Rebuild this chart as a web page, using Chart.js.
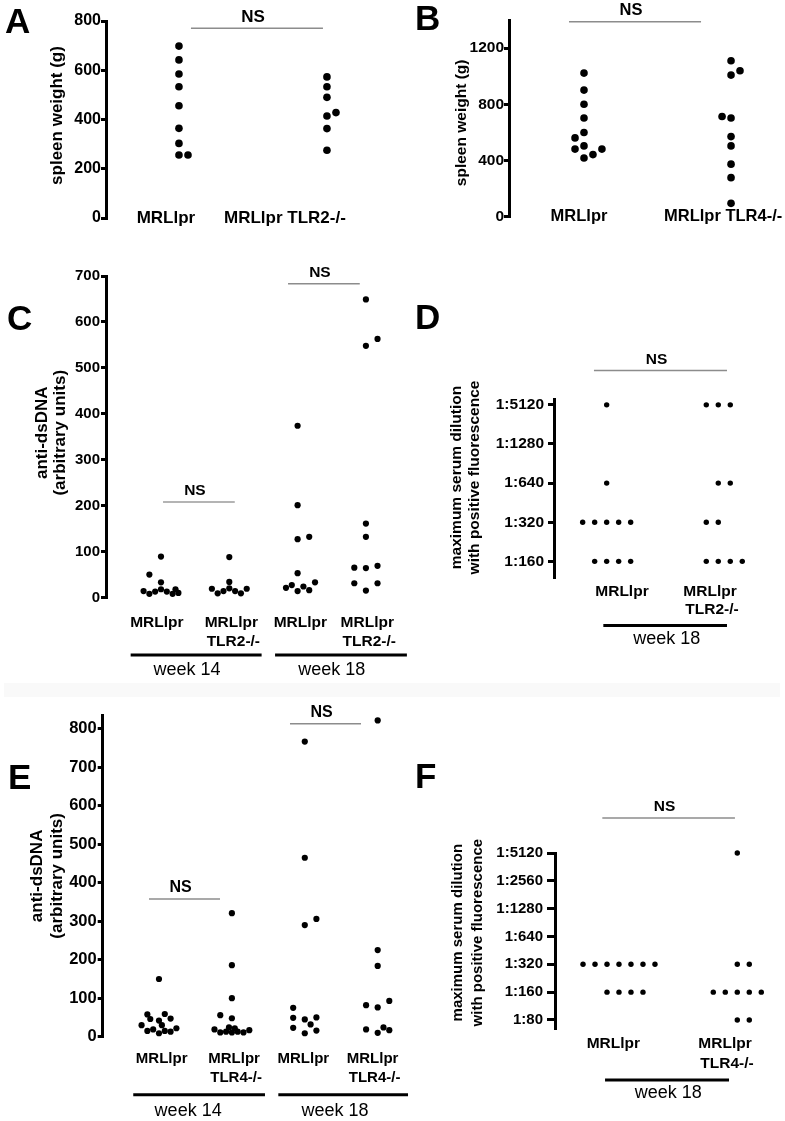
<!DOCTYPE html>
<html>
<head>
<meta charset="utf-8">
<script src="https://cdn.jsdelivr.net/npm/chart.js@4.4.1/dist/chart.umd.min.js"></script>
<style>
  body { margin: 0; background: #fff; }
  #page { position: relative; width: 785px; height: 1121px; overflow: hidden; }
  #page canvas { position: absolute; }
  .band { position: absolute; left: 4px; top: 683px; width: 776px; height: 14px; background: #f9f9f9; }
</style>
</head>
<body>
<div id="page">
  <div class="band"></div>
  <canvas id="panel-a" width="390" height="240" style="left:0px;top:0px"></canvas>
  <canvas id="panel-b" width="395" height="240" style="left:390px;top:0px"></canvas>
  <canvas id="panel-c" width="410" height="440" style="left:0px;top:240px"></canvas>
  <canvas id="panel-d" width="395" height="440" style="left:390px;top:240px"></canvas>
  <canvas id="panel-e" width="410" height="441" style="left:0px;top:680px"></canvas>
  <canvas id="panel-f" width="395" height="441" style="left:390px;top:680px"></canvas>
</div>
<script>
const FONT = "'Liberation Sans', Arial, Helvetica, sans-serif";
Chart.defaults.font.family = FONT;

// ---- A: spleen weight, TLR2
const aGroups = ['MRLlpr', 'MRLlpr TLR2-/-'];
const aTicks = [0, 200, 400, 600, 800];
const aMrl = [698, 642, 585, 533, 456, 364, 303, 256, 256];
const aMrlJit = [0, 0, 0, 0, 0, 0, 0, 0, 1];
const aTlr2 = [573, 533, 490, 414, 428, 363, 275];
const aTlr2Jit = [0, 0, 0, 0, 1, 0, 0];

// ---- B: spleen weight, TLR4
const bGroups = ['MRLlpr', 'MRLlpr TLR4-/-'];
const bTicks = [0, 400, 800, 1200];
const bMrl = [1022, 901, 800, 702, 599, 561, 504, 481, 481, 418, 442];
const bMrlJit = [0, 0, 0, 0, 0, -1, 0, -1, 2, 0, 1];
const bTlr4 = [1110, 1008, 1039, 713, 702, 570, 504, 374, 278, 95];
const bTlr4Jit = [0, 0, 1, -1, 0, 0, 0, 0, 0, 0];

// ---- C: anti-dsDNA, TLR2
const cGroups = ['MRLlpr', 'MRLlpr|TLR2-/-', 'MRLlpr', 'MRLlpr|TLR2-/-'];
const cWeeks = ['week 14', 'week 18'];
const cTicks = [0, 100, 200, 300, 400, 500, 600, 700];
const cWk14Mrl = [89, 50, 33, 14, 8, 13, 18, 13, 8, 18, 10];
const cWk14MrlJit = [0, -2, 0, -3, -2, -1, 0, 1, 2, 2.5, 3];
const cWk14Tlr2 = [88, 34, 19, 9, 14, 20, 14, 9, 19];
const cWk14Tlr2Jit = [0, 0, -3, -2, -1, 0, 1, 2, 3];
const cWk18Mrl = [374, 201, 127, 132, 53, 21, 27, 14, 24, 16, 33];
const cWk18MrlJit = [0, 0, 0, 2, 0, -2, -1, 0, 1, 2, 3];
const cWk18Tlr2 = [649, 563, 548, 161, 132, 65, 64, 69, 31, 31, 15];
const cWk18Tlr2Jit = [0, 2, 0, 0, 0, -2, 0, 2, -2, 2, 0];

// ---- D: max serum dilution, TLR2, week 18
const dGroups = ['MRLlpr', 'MRLlpr|TLR2-/-'];
const dWeeks = ['week 18'];
const dLevels = [160, 320, 640, 1280, 5120];
const dMrl = [5120, 640, 320, 320, 320, 320, 320, 160, 160, 160, 160];
const dMrlJit = [0, 0, -2, -1, 0, 1, 2, -1, 0, 1, 2];
const dTlr2 = [5120, 5120, 5120, 640, 640, 320, 320, 160, 160, 160, 160];
const dTlr2Jit = [-1, 0, 1, 0, 1, -1, 0, -1, 0, 1, 2];

// ---- E: anti-dsDNA, TLR4
const eGroups = ['MRLlpr', 'MRLlpr|TLR4-/-', 'MRLlpr', 'MRLlpr|TLR4-/-'];
const eWeeks = ['week 14', 'week 18'];
const eTicks = [0, 100, 200, 300, 400, 500, 600, 700, 800];
const eWk14Mrl = [150, 58, 59, 46, 42, 47, 30, 30, 15, 19, 9, 15, 13, 22];
const eWk14MrlJit = [0, -2, 1, -1.5, 0, 2, -3, 0.5, -2, -1, 0, 1, 2, 3];
const eWk14Tlr4 = [321, 186, 100, 56, 48, 24, 22, 19, 11, 13, 11, 13, 11, 17];
const eWk14Tlr4Jit = [0, 0, 0, -2, 0, -0.5, 0.5, -3, -2, -1, 0, 1, 2, 3];
const eWk18Mrl = [767, 465, 290, 306, 75, 49, 45, 50, 32, 23, 9, 16];
const eWk18MrlJit = [0, 0, 0, 2, -2, -2, 0, 2, 1, -2, 0, 2];
const eWk18Tlr4 = [822, 225, 184, 82, 76, 93, 19, 10, 24, 17];
const eWk18Tlr4Jit = [0, 0, 0, -2, 0, 2, -2, 0, 1, 2];

// ---- F: max serum dilution, TLR4, week 18
const fGroups = ['MRLlpr', 'MRLlpr|TLR4-/-'];
const fWeeks = ['week 18'];
const fLevels = [80, 160, 320, 640, 1280, 2560, 5120];
const fMrl = [320, 320, 320, 320, 320, 320, 320, 160, 160, 160, 160];
const fMrlJit = [-3, -2, -1, 0, 1, 2, 3, -1, 0, 1, 2];
const fTlr4 = [5120, 320, 320, 160, 160, 160, 160, 160, 80, 80];
const fTlr4Jit = [0, 0, 1, -2, -1, 0, 1, 2, 0, 1];

function points(values, jit, group, step, levels) {
	return values.map((v, i) => ({
		x: group + jit[i] * step,
		y: levels ? levels.indexOf(v) : v,
	}));
}

const decor = {
	id: 'decor',
	afterDraw(chart, args, o) {
		const {ctx, chartArea: area, scales: {x, y}} = chart;
		const [ox, oy] = o.offset;
		ctx.save();
		ctx.fillStyle = '#000';

		// panel letter
		ctx.font = 'bold 35px ' + FONT;
		ctx.textAlign = 'left';
		ctx.textBaseline = 'alphabetic';
		ctx.fillText(o.letter[0], o.letter[1] - ox, o.letter[2] - oy);

		// y title
		ctx.font = 'bold ' + o.title.size + 'px ' + FONT;
		ctx.textAlign = 'center';
		ctx.textBaseline = 'middle';
		const cy = (area.top + area.bottom) / 2 + o.title.dy;
		o.title.lines.forEach((t, i) => {
			ctx.save();
			ctx.translate(area.left + o.title.dx[i], cy);
			ctx.rotate(-Math.PI / 2);
			ctx.fillText(t, 0, 0);
			ctx.restore();
		});

		// group labels
		ctx.font = 'bold ' + o.labelSize + 'px ' + FONT;
		o.groups.forEach((g, i) => {
			g.split('|').forEach((line, j) => {
				ctx.fillText(line, x.getPixelForValue(o.groupAt[i]) + (j ? 2 : 0), area.bottom + o.labelDy[j]);
			});
		});

		// NS bars
		o.ns.forEach(n => {
			const x0 = x.getPixelForValue(n.from);
			const x1 = x.getPixelForValue(n.to);
			const py = y.getPixelForValue(n.at);
			ctx.strokeStyle = n.color || '#8c8c8c';
			ctx.lineWidth = n.width || 1.5;
			ctx.beginPath();
			ctx.moveTo(x0, py);
			ctx.lineTo(x1, py);
			ctx.stroke();
			ctx.font = 'bold ' + o.nsSize + 'px ' + FONT;
			ctx.fillText('NS', (x0 + x1) / 2 - 4, py - 11);
		});

		// week underlines
		(o.weeks || []).forEach(w => {
			const x0 = x.getPixelForValue(w.from);
			const x1 = x.getPixelForValue(w.to);
			ctx.strokeStyle = '#000';
			ctx.lineWidth = 3;
			ctx.beginPath();
			ctx.moveTo(x0, area.bottom + o.weekDy[0]);
			ctx.lineTo(x1, area.bottom + o.weekDy[0]);
			ctx.stroke();
			ctx.font = '18px ' + FONT;
			ctx.fillText(w.text, x.getPixelForValue(w.at), area.bottom + o.weekDy[1]);
		});
		ctx.restore();
	}
};

function makeChart(id, cfg) {
	const ctx = document.getElementById(id).getContext('2d');
	return new Chart(ctx, {
		type: 'scatter',
		data: {
			datasets: cfg.series.map(s => ({
				data: s,
				pointRadius: cfg.r,
				pointBackgroundColor: '#000',
				pointBorderColor: '#000',
				pointBorderWidth: 0,
				clip: false,
			})),
		},
		options: {
			responsive: false,
			animation: false,
			layout: { padding: cfg.pad },
			plugins: {
				legend: { display: false },
				tooltip: { enabled: false },
				decor: cfg.decor,
			},
			scales: {
				x: { type: 'linear', display: false, min: cfg.xMin, max: cfg.xMax },
				y: {
					min: cfg.yMin,
					max: cfg.yMax,
					afterFit: s => { s.width = cfg.axisW; },
					afterBuildTicks: s => { s.ticks = cfg.yTicks.map(v => ({ value: v })); },
					border: { display: true, width: 3, color: '#000' },
					grid: { display: true, drawOnChartArea: false, drawTicks: true, tickLength: cfg.tl, lineWidth: 3, color: '#000' },
					ticks: {
						color: '#000',
						padding: cfg.tp,
						autoSkip: false,
						font: { size: cfg.tickSize, weight: 'bold' },
						callback: cfg.tickLabel || (v => v),
					},
				},
			},
		},
		plugins: [decor],
	});
}

// A
const aStep = 0.061;
makeChart('panel-a', {
	series: [points(aMrl, aMrlJit, 1, aStep), points(aTlr2, aTlr2Jit, 2, aStep)],
	r: 3.8, axisW: 60, tl: 5, tp: 0, tickSize: 16,
	pad: { left: 46, top: 21, bottom: 22, right: 4 },
	xMin: 0.507, xMax: 2.399, yMin: 0, yMax: 800, yTicks: aTicks,
	decor: {
		offset: [0, 0], letter: ['A', 5, 33],
		title: { lines: ['spleen weight (g)'], dx: [-49], dy: -4, size: 17 },
		groups: aGroups, groupAt: [0.912, 1.716], labelSize: 17, labelDy: [0],
		ns: [{ from: 1.081, to: 1.973, at: 771 }], nsSize: 17,
	},
});

// B
const bStep = 0.061;
makeChart('panel-b', {
	series: [points(bMrl, bMrlJit, 1, bStep), points(bTlr4, bTlr4Jit, 2, bStep)],
	r: 3.8, axisW: 60, tl: 5, tp: 0, tickSize: 15.5,
	pad: { left: 59, top: 20, bottom: 23.3, right: 5 },
	xMin: 0.49, xMax: 2.333, yMin: 0, yMax: 1400, yTicks: bTicks,
	decor: {
		offset: [390, 0], letter: ['B', 415, 30],
		title: { lines: ['spleen weight (g)'], dx: [-47], dy: 4.5, size: 15.5 },
		groups: bGroups, groupAt: [0.966, 1.946], labelSize: 16.5, labelDy: [0],
		ns: [{ from: 0.898, to: 1.796, at: 1388 }], nsSize: 16.5,
	},
});

// C
const cStep = 0.085;
makeChart('panel-c', {
	series: [
		points(cWk14Mrl, cWk14MrlJit, 1, cStep), points(cWk14Tlr2, cWk14Tlr2Jit, 2, cStep),
		points(cWk18Mrl, cWk18MrlJit, 3, cStep), points(cWk18Tlr2, cWk18Tlr2Jit, 4, cStep),
	],
	r: 3.1, axisW: 60, tl: 5, tp: 1, tickSize: 15,
	pad: { left: 46, top: 36, bottom: 82.5, right: 10 },
	xMin: 0.195, xMax: 4.499, yMin: 0, yMax: 700, yTicks: cTicks,
	decor: {
		offset: [0, 240], letter: ['C', 7, 330],
		title: { lines: ['anti-dsDNA', '(arbitrary units)'], dx: [-64, -46], dy: -4, size: 17 },
		groups: cGroups, groupAt: [0.94, 2.03, 3.04, 4.02], labelSize: 15.5, labelDy: [25.5, 44],
		ns: [
			{ from: 1.03, to: 2.08, at: 208, color: '#b4b4b4', width: 2 },
			{ from: 2.86, to: 3.91, at: 683 },
		], nsSize: 15.5,
		weeks: [
			{ from: 0.556, to: 2.473, at: 1.38, text: cWeeks[0] },
			{ from: 2.67, to: 4.6, at: 3.5, text: cWeeks[1] },
		], weekDy: [57.5, 72.5],
	},
});

// D
const dStep = 0.1075;
makeChart('panel-d', {
	series: [points(dMrl, dMrlJit, 1, dStep, dLevels), points(dTlr2, dTlr2Jit, 2, dStep, dLevels)],
	r: 2.7, axisW: 75, tl: 6, tp: 4, tickSize: 15.5,
	pad: { left: 89, top: 159, bottom: 103, right: 5 },
	xMin: 0.528, xMax: 2.553, yMin: -0.4, yMax: 4.15, yTicks: dLevels.map((v, i) => i),
	tickLabel: v => '1:' + dLevels[v],
	decor: {
		offset: [390, 240], letter: ['D', 415, 329],
		title: { lines: ['maximum serum dilution', 'with positive fluorescence'], dx: [-97, -79], dy: -10.5, size: 15.5 },
		groups: dGroups, groupAt: [1.137, 1.926], labelSize: 15.5, labelDy: [14.7, 32.3],
		ns: [{ from: 0.886, to: 2.078, at: 4.88 }], nsSize: 15.5,
		weeks: [{ from: 0.97, to: 2.078, at: 1.538, text: dWeeks[0] }], weekDy: [48.5, 62.3],
	},
});

// E
const eStep = 0.0796;
makeChart('panel-e', {
	series: [
		points(eWk14Mrl, eWk14MrlJit, 1, eStep), points(eWk14Tlr4, eWk14Tlr4Jit, 2, eStep),
		points(eWk18Mrl, eWk18MrlJit, 3, eStep), points(eWk18Tlr4, eWk18Tlr4Jit, 4, eStep),
	],
	r: 3.1, axisW: 60, tl: 5, tp: 1, tickSize: 16.5,
	pad: { left: 42.7, top: 35, bottom: 84.3, right: 10 },
	xMin: 0.228, xMax: 4.306, yMin: 0, yMax: 836, yTicks: eTicks,
	decor: {
		offset: [0, 680], letter: ['E', 8, 789],
		title: { lines: ['anti-dsDNA', '(arbitrary units)'], dx: [-65, -45], dy: 0, size: 17 },
		groups: eGroups, groupAt: [1.037, 2.03, 2.98, 3.93], labelSize: 15, labelDy: [22.6, 41],
		ns: [
			{ from: 0.863, to: 1.837, at: 358 },
			{ from: 2.797, to: 3.771, at: 813 },
		], nsSize: 16,
		weeks: [
			{ from: 0.647, to: 2.454, at: 1.4, text: eWeeks[0] },
			{ from: 2.637, to: 4.416, at: 3.414, text: eWeeks[1] },
		], weekDy: [58, 74],
	},
});

// F
const fStep = 0.1014;
makeChart('panel-f', {
	series: [points(fMrl, fMrlJit, 1, fStep, fLevels), points(fTlr4, fTlr4Jit, 2, fStep, fLevels)],
	r: 2.7, axisW: 75, tl: 8, tp: 4, tickSize: 15,
	pad: { left: 90, top: 173, bottom: 92.7, right: 5 },
	xMin: 0.459, xMax: 2.361, yMin: -0.3, yMax: 6, yTicks: fLevels.map((v, i) => i),
	tickLabel: v => '1:' + fLevels[v],
	decor: {
		offset: [390, 680], letter: ['F', 415, 788],
		title: { lines: ['maximum serum dilution', 'with positive fluorescence'], dx: [-97, -77], dy: -8, size: 15 },
		groups: fGroups, groupAt: [0.952, 1.896], labelSize: 15.5, labelDy: [15, 35],
		ns: [{ from: 0.859, to: 1.98, at: 7.26 }], nsSize: 15.5,
		weeks: [{ from: 0.882, to: 1.93, at: 1.417, text: fWeeks[0] }], weekDy: [51.7, 65],
	},
});
</script>
</body>
</html>
